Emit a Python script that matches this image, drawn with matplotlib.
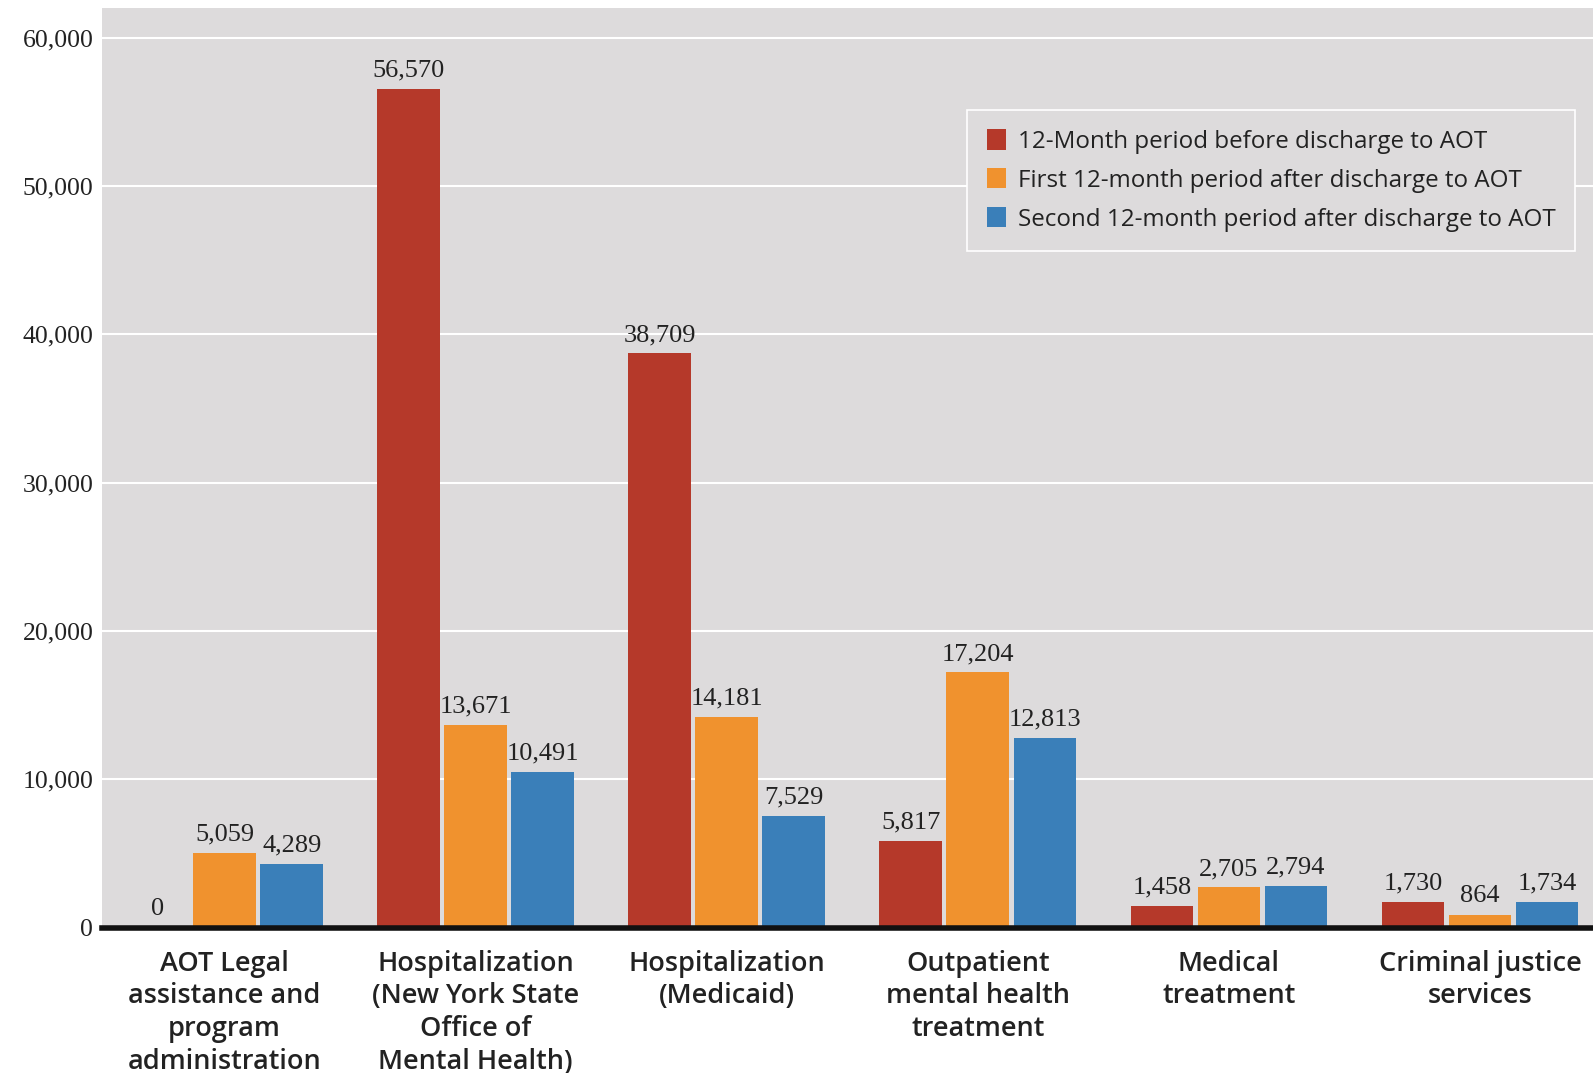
import numpy as np
import matplotlib
matplotlib.use("Agg")
import matplotlib.pyplot as plt
from matplotlib.ticker import FuncFormatter

# data
categories = [
    "AOT Legal\nassistance and\nprogram\nadministration",
    "Hospitalization\n(New York State\nOffice of\nMental Health)",
    "Hospitalization\n(Medicaid)",
    "Outpatient\nmental health\ntreatment",
    "Medical\ntreatment",
    "Criminal justice\nservices",
]
series_names = [
    "12-Month period before discharge to AOT",
    "First 12-month period after discharge to AOT",
    "Second 12-month period after discharge to AOT",
]
before = [0, 56570, 38709, 5817, 1458, 1730]
first_after = [5059, 13671, 14181, 17204, 2705, 864]
second_after = [4289, 10491, 7529, 12813, 2794, 1734]
yticks = [0, 10000, 20000, 30000, 40000, 50000, 60000]

colors = ["#b5392a", "#f0922e", "#3a7fb9"]
bg = "#dddbdc"
num_font = "Liberation Serif"
txt_font = "Open Sans"

fig = plt.figure(figsize=(15.93, 10.73), dpi=100)
ax = fig.add_axes([0.0638, 0.1355, 0.9362, 0.857])
ax.set_facecolor(bg)

x = np.arange(len(categories))
width = 0.25
step = 0.267
for i, (vals, c, name) in enumerate(zip([before, first_after, second_after],
                                        colors, series_names)):
    pos = x + (i - 1) * step
    ax.bar(pos, vals, width=width, color=c, label=name, zorder=3)
    for p, v in zip(pos, vals):
        ax.text(p, v + 500, "{:,}".format(v), ha="center", va="bottom",
                fontsize=19, family=num_font, color="#222222", zorder=4)

ax.set_xlim(-0.49, 5.45)
ax.set_ylim(0, 62000)
ax.set_yticks(yticks)
ax.yaxis.set_major_formatter(FuncFormatter(lambda v, _: "{:,}".format(int(v))))
ax.grid(axis="y", color="white", linewidth=1.5, zorder=0)
ax.tick_params(axis="y", length=0, labelsize=18.5, pad=6)
for lab in ax.get_yticklabels():
    lab.set_family(num_font)
    lab.set_color("#222222")

ax.set_xticks(x)
ax.set_xticklabels(categories, fontsize=19.5, family=txt_font,
                   fontweight="semibold", linespacing=1.22, color="#222222")
ax.tick_params(axis="x", length=0, pad=16)

for side in ["top", "right", "left"]:
    ax.spines[side].set_visible(False)
ax.spines["bottom"].set_linewidth(4)
ax.spines["bottom"].set_color("#111111")
ax.spines["bottom"].set_zorder(5)

leg = ax.legend(loc="upper right", bbox_to_anchor=(0.988, 0.889), frameon=True,
                fancybox=False, facecolor=bg, edgecolor="white",
                prop={"family": txt_font, "size": 17.4}, handlelength=0.8,
                handleheight=0.9, handletextpad=0.5, labelspacing=0.6,
                borderpad=0.8, borderaxespad=0, framealpha=1)
leg.get_frame().set_linewidth(1.2)
for t in leg.get_texts():
    t.set_color("#222222")

fig.savefig("out.png", dpi=100, facecolor="white")
